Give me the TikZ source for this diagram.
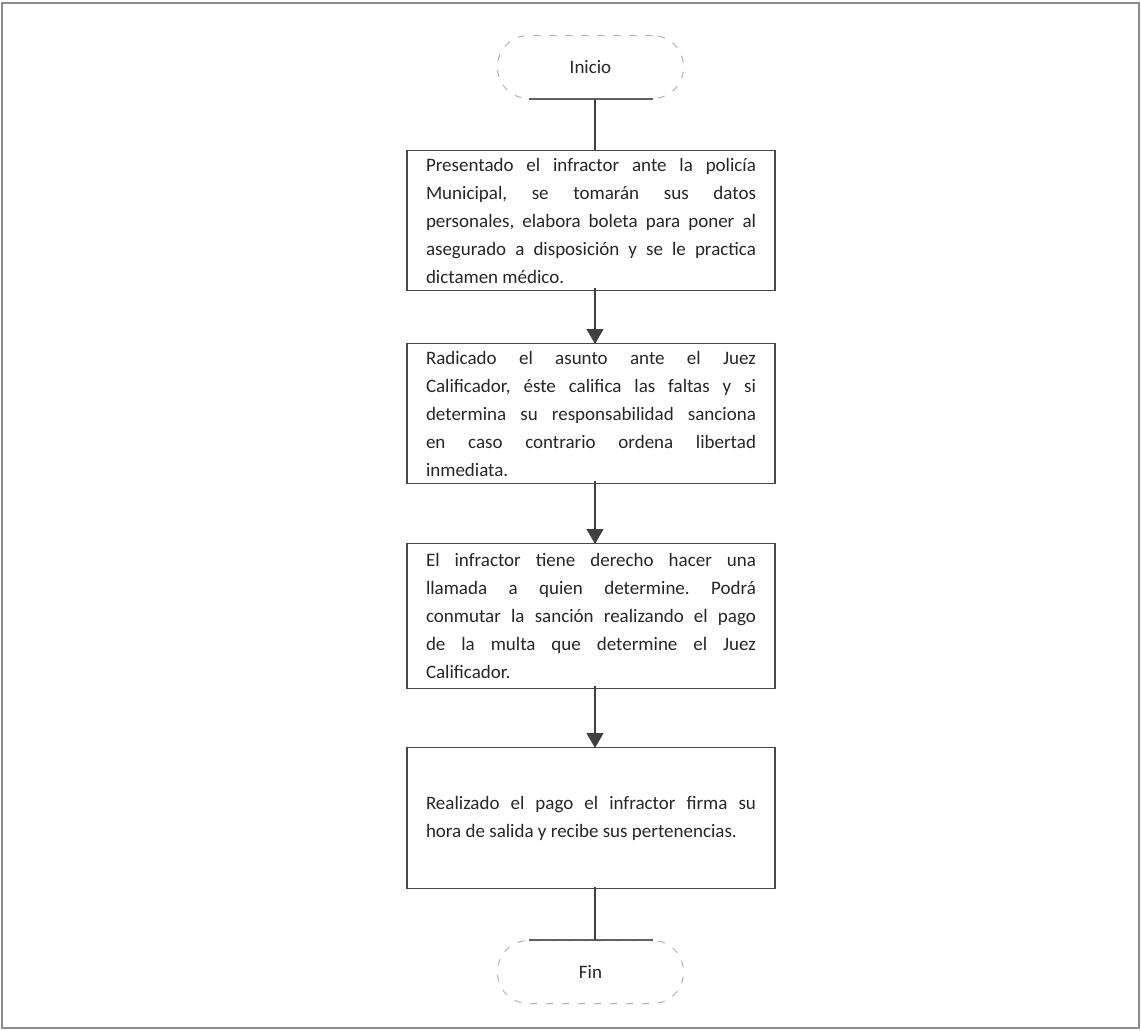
\documentclass[tikz,border=0pt]{standalone}
\usepackage{fontspec}
\setmainfont{Carlito}
\usetikzlibrary{arrows.meta}
\frenchspacing

% one fully justified line inside a text box
\newcommand\jline[1]{\makebox[\hsize][s]{#1}\\}

\begin{document}
\begin{tikzpicture}[x=1pt,y=-1pt,
  every node/.style={font=\fontsize{19}{28}\selectfont, text=black!85},
  stepbox/.style={draw=black!72, line width=1.2pt, text width=330pt,
    inner xsep=19pt, inner ysep=0pt, align=justify, anchor=north},
  terminal/.style={draw=black!30, line width=1pt, dash pattern=on 7pt off 9pt,
    rounded corners=31pt, minimum width=186pt, minimum height=63pt, inner sep=0pt},
  edgeline/.style={draw=black!62, line width=1.2pt},
  link/.style={draw=black!75, line width=1.3pt},
  flow/.style={link, -{Triangle[length=15pt,width=17pt]}}]

\useasboundingbox (0,0) rectangle (1141,1031);

% page frame
\draw[black!45, line width=1.2pt] (2,3) rectangle (1139,1028);

% column of the connectors
\coordinate (cx) at (595,0);

% start and end terminals
\node[terminal] (start) at (590.5,67) {Inicio};
\node[terminal] (stop)  at (590.5,972) {Fin};
\draw[edgeline] ([xshift=-62pt]start.south) -- ([xshift=62pt]start.south);
\draw[edgeline] ([xshift=-62pt]stop.north) -- ([xshift=62pt]stop.north);

% process steps
\node[stepbox, minimum height=140pt] (s1) at (591,150) {%
\jline{Presentado el infractor ante la policía}
\jline{Municipal, se tomarán sus datos}
\jline{personales, elabora boleta para poner al}
\jline{asegurado a disposición y se le practica}
\mbox{dictamen médico.}};

\node[stepbox, minimum height=140pt] (s2) at (591,343) {%
\jline{Radicado el asunto ante el Juez}
\jline{Calificador, éste califica las faltas y si}
\jline{determina su responsabilidad sanciona}
\jline{en caso contrario ordena libertad}
\mbox{inmediata.}};

\node[stepbox, minimum height=145pt] (s3) at (591,543) {%
\jline{El infractor tiene derecho hacer una}
\jline{llamada a quien determine. Podrá}
\jline{conmutar la sanción realizando el pago}
\jline{de la multa que determine el Juez}
\mbox{Calificador.}};

\node[stepbox, minimum height=141pt] (s4) at (591,747) {%
\jline{Realizado el pago el infractor firma su}
\mbox{hora de salida y recibe sus pertenencias.}};

% connectors
\draw[link] (start.south -| cx) -- (s1.north -| cx);
\draw[flow] ([yshift=3pt]s1.south -| cx) -- ([yshift=-1pt]s2.north -| cx);
\draw[flow] ([yshift=3pt]s2.south -| cx) -- ([yshift=-1pt]s3.north -| cx);
\draw[flow] ([yshift=3pt]s3.south -| cx) -- ([yshift=-1pt]s4.north -| cx);
\draw[link] ([yshift=2pt]s4.south -| cx) -- (stop.north -| cx);

\end{tikzpicture}
\end{document}
